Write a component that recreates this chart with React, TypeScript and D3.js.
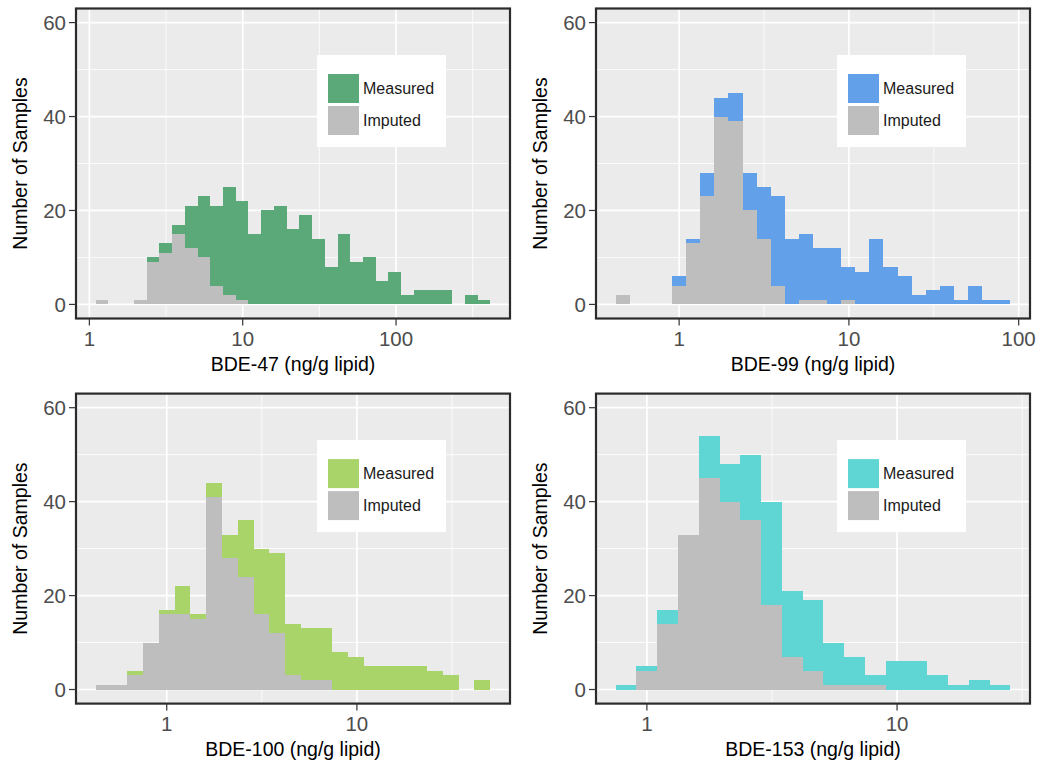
import React from "react";
import * as d3 from "d3";

// histogram bins are equal width in log10 space
const BIN_WIDTH = 0.083;

// BDE-47
const bde47Start = 0.0415;
const bde47Measured = [0, 0, 0, 0, 1, 2, 2, 9, 13, 17, 23, 21, 15, 20, 21, 16, 19, 14, 8, 15, 9, 10, 5, 7, 2, 3, 3, 3, 0, 2, 1];
const bde47Imputed = [1, 0, 0, 1, 9, 11, 15, 12, 10, 4, 2, 1, 0, 0, 0, 0, 0, 0, 0, 0, 0, 0, 0, 0, 0, 0, 0, 0, 0, 0, 0];

// BDE-99
const bde99Start = -0.3735;
const bde99Measured = [0, 0, 0, 0, 2, 1, 5, 4, 6, 8, 11, 19, 14, 14, 11, 12, 7, 7, 14, 8, 6, 2, 3, 4, 1, 4, 1, 1];
const bde99Imputed = [2, 0, 0, 0, 4, 13, 23, 40, 39, 20, 14, 4, 0, 1, 1, 0, 1, 0, 0, 0, 0, 0, 0, 0, 0, 0, 0, 0];

// BDE-100
const bde100Start = -0.3735;
const bde100Measured = [0, 0, 1, 0, 1, 6, 1, 3, 5, 12, 14, 17, 11, 11, 11, 8, 7, 5, 5, 5, 5, 4, 3, 0, 2];
const bde100Imputed = [1, 1, 3, 10, 16, 16, 15, 41, 28, 24, 16, 12, 3, 2, 2, 0, 0, 0, 0, 0, 0, 0, 0, 0, 0];

// BDE-153
const bde153Start = -0.1245;
const bde153Measured = [1, 1, 3, 0, 9, 8, 14, 22, 14, 15, 9, 6, 2, 6, 6, 3, 1, 2, 1];
const bde153Imputed = [0, 4, 14, 33, 45, 40, 36, 18, 7, 4, 1, 1, 1, 0, 0, 0, 0, 0, 0];

const yTicks = [0, 20, 40, 60];
const yMinor = [10, 30, 50];
const xTickValues = [1, 10, 100];
const legendLabels = ["Measured", "Imputed"];

const panels = [
  { title: "BDE-47 (ng/g lipid)", color: "#5ba878", start: bde47Start, measured: bde47Measured, imputed: bde47Imputed },
  { title: "BDE-99 (ng/g lipid)", color: "#62a1e9", start: bde99Start, measured: bde99Measured, imputed: bde99Imputed },
  { title: "BDE-100 (ng/g lipid)", color: "#a8d46a", start: bde100Start, measured: bde100Measured, imputed: bde100Imputed },
  { title: "BDE-153 (ng/g lipid)", color: "#5fd5d4", start: bde153Start, measured: bde153Measured, imputed: bde153Imputed },
];

const W = 434;
const H = 310;
const LEFT = [76, 596];
const TOP = [8.5, 393.6];
const FONT = "Liberation Sans, Arial, Helvetica, sans-serif";
const GRAY = "#bebebe";

function Panel({ p, x0, y0 }) {
  const n = p.measured.length;
  const lo = p.start;
  const hi = p.start + n * BIN_WIDTH;
  const pad = (hi - lo) * 0.05;
  const x = d3.scaleLog().domain([10 ** (lo - pad), 10 ** (hi + pad)]).range([0, W]);
  const y = d3.scaleLinear().domain([-3, 63]).range([H, 0]);

  const rows = p.measured.map((m, i) => ({
    a: 10 ** (p.start + i * BIN_WIDTH),
    b: 10 ** (p.start + (i + 1) * BIN_WIDTH),
    imputed: p.imputed[i],
    measured: m,
  }));
  const series = d3.stack().keys(["imputed", "measured"])(rows);

  const [dmin, dmax] = x.domain();
  const majors = xTickValues.filter((v) => v >= dmin && v <= dmax);
  const minors = [-0.5, 0.5, 1.5, 2.5].map((e) => 10 ** e).filter((v) => v >= dmin && v <= dmax);

  const lg = { x: 241, y: 46.5, w: 129, h: 92 };

  return (
    <g transform={`translate(${x0},${y0})`}>
      <rect width={W} height={H} fill="#ebebeb" />
      {yMinor.map((v) => (
        <line key={"ym" + v} x1={0} x2={W} y1={y(v)} y2={y(v)} stroke="#fff" strokeWidth={0.8} />
      ))}
      {minors.map((v) => (
        <line key={"xm" + v} x1={x(v)} x2={x(v)} y1={0} y2={H} stroke="#fff" strokeWidth={0.8} />
      ))}
      {yTicks.map((v) => (
        <line key={"yM" + v} x1={0} x2={W} y1={y(v)} y2={y(v)} stroke="#fff" strokeWidth={1.7} />
      ))}
      {majors.map((v) => (
        <line key={"xM" + v} x1={x(v)} x2={x(v)} y1={0} y2={H} stroke="#fff" strokeWidth={1.7} />
      ))}

      {series.map((s) => (
        <g key={s.key} fill={s.key === "imputed" ? GRAY : p.color} shapeRendering="crispEdges">
          {s.map((d, i) =>
            d[1] > d[0] ? (
              <rect
                key={i}
                x={x(d.data.a)}
                width={x(d.data.b) - x(d.data.a)}
                y={y(d[1])}
                height={y(d[0]) - y(d[1])}
              />
            ) : null
          )}
        </g>
      ))}

      {/* legend */}
      <rect x={lg.x} y={lg.y} width={lg.w} height={lg.h} fill="#fff" />
      {legendLabels.map((lab, i) => (
        <g key={lab}>
          <rect x={lg.x + 11} y={lg.y + 19 + i * 32} width={31} height={29} fill={i === 0 ? p.color : GRAY} />
          <text x={lg.x + 46} y={lg.y + 19 + i * 32 + 20} fontSize={16} fontFamily={FONT} fill="#1a1a1a">
            {lab}
          </text>
        </g>
      ))}

      <rect width={W} height={H} fill="none" stroke="#2b2b2b" strokeWidth={2.2} />

      {/* y axis */}
      {yTicks.map((v) => (
        <g key={"yt" + v}>
          <line x1={-7} x2={0} y1={y(v)} y2={y(v)} stroke="#333" strokeWidth={1.2} />
          <text x={-10} y={y(v)} dy="0.36em" textAnchor="end" fontSize={20.5} fontFamily={FONT} fill="#4d4d4d">
            {v}
          </text>
        </g>
      ))}
      {/* x axis */}
      {majors.map((v) => (
        <g key={"xt" + v}>
          <line x1={x(v)} x2={x(v)} y1={H} y2={H + 7} stroke="#333" strokeWidth={1.2} />
          <text x={x(v)} y={H + 27.5} textAnchor="middle" fontSize={20.5} fontFamily={FONT} fill="#4d4d4d">
            {d3.format("d")(v)}
          </text>
        </g>
      ))}
      <text x={W / 2} y={H + 52.5} textAnchor="middle" fontSize={19.5} fontFamily={FONT} fill="#000">
        {p.title}
      </text>
      <text
        transform={`translate(${-49},${H / 2}) rotate(-90)`}
        textAnchor="middle"
        fontSize={19.5}
        fontFamily={FONT}
        fill="#000"
      >
        Number of Samples
      </text>
    </g>
  );
}

export default function App() {
  return (
    <svg width={1038} height={761} style={{ position: "absolute", left: 0, top: 0, background: "#fff" }}>
      {panels.map((p, i) => (
        <Panel key={p.title} p={p} x0={LEFT[i % 2]} y0={TOP[Math.floor(i / 2)]} />
      ))}
    </svg>
  );
}
